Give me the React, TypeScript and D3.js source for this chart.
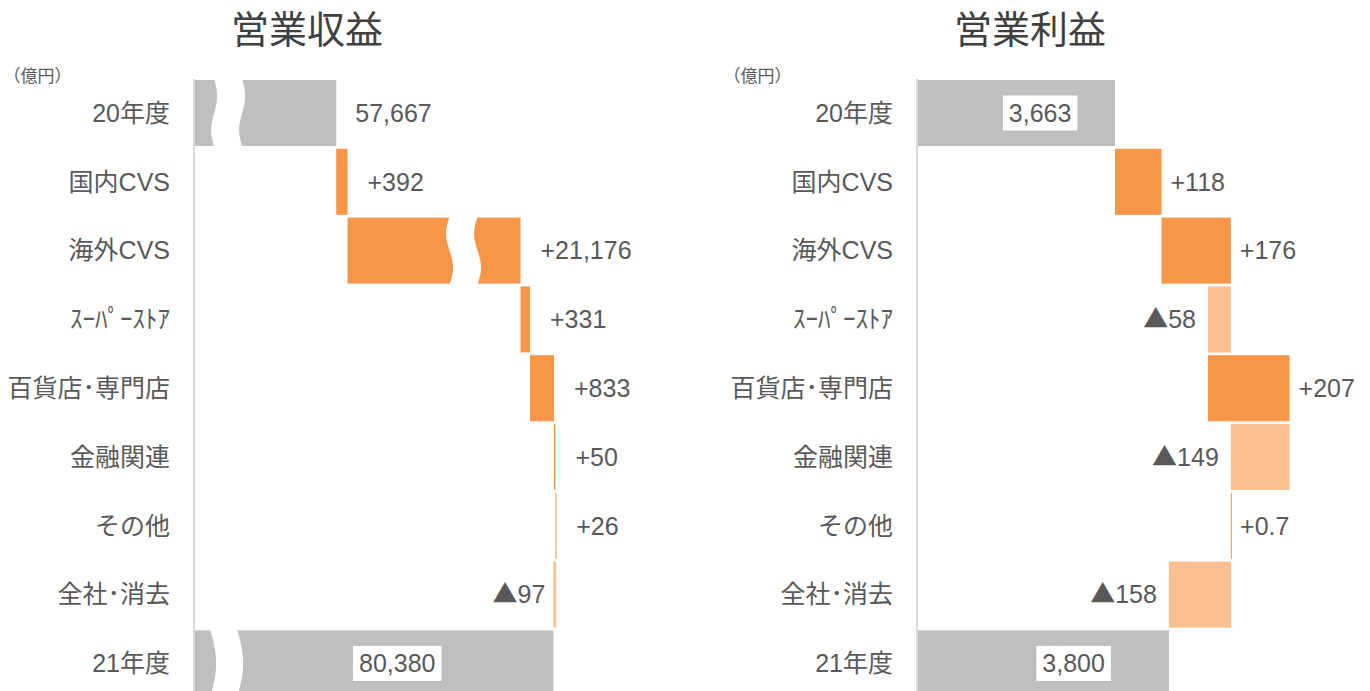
import React from "react";
import * as d3 from "d3";

// ---------- data ----------
const categories = ["20年度", "国内CVS", "海外CVS", "ｽｰﾊﾟｰｽﾄｱ", "百貨店･専門店", "金融関連", "その他", "全社･消去", "21年度"];
const revenueValues = [57667, 392, 21176, 331, 833, 50, 26, -97, 80380];
const profitValues = [3663, 118, 176, -58, 207, -149, 0.7, -158, 3800];
const panelTitles = ["営業収益", "営業利益"];
const unitLabel = "（億円）";
// compressed value ranges on the revenue axis
const revenueBreaks = [
  { lo: 700, hi: 54360, rows: ["20年度", "21年度"] },
  { lo: 61571, hi: 77775, rows: ["海外CVS"] },
];
const profitDomain = [3163, 4300];

// ---------- styles ----------
const W = 1370;
const H = 691;
const FONT = "'Liberation Sans', Arial, 'Noto Sans CJK JP', sans-serif";
const CJK = "'Noto Sans CJK JP', 'Liberation Sans', sans-serif";
const TEXT = "#595959";
const GRAY = "#bfbfbf";
const UP = "#f79646";
const DOWN = "#fac090";
const AXIS = "#d9d9d9";

const y = d3.scaleBand<string>().domain(categories).range([78.6, 78.6 + 9 * 68.8]).paddingInner(0.04).paddingOuter(0.02);

// revenue x scale: piecewise linear with compressed regions
const K_REV = 0.02876;
const REV_X0 = 195;
const breakGaps = [26, 30];
const revDomain = [0, revenueBreaks[0].lo, revenueBreaks[0].hi, revenueBreaks[1].lo, revenueBreaks[1].hi, 84000];
const revRange: number[] = [REV_X0];
for (let i = 1; i < revDomain.length; i++) {
  const isGap = i === 2 || i === 4;
  revRange.push(revRange[i - 1] + (isGap ? breakGaps[i === 2 ? 0 : 1] : (revDomain[i] - revDomain[i - 1]) * K_REV));
}
const xRev = d3.scaleLinear().domain(revDomain).range(revRange);

const K_PROF = 0.394;
const PROF_X0 = 918;
const xProf = d3
  .scaleLinear()
  .domain(profitDomain)
  .range([PROF_X0, PROF_X0 + (profitDomain[1] - profitDomain[0]) * K_PROF]);

const fmt = d3.format(",");
const labelOf = (v: number, total: boolean) => (total ? fmt(v) : v >= 0 ? "+" + fmt(v) : "▲" + fmt(-v));

// break band shapes per row
const breakShapes: Record<string, { amp: number; cycles: number; dx: number; w: number }> = {
  "20年度": { amp: 3, cycles: 1, dx: 0, w: 28 },
  "21年度": { amp: 6, cycles: 0.5, dx: -4.5, w: 27 },
  "海外CVS": { amp: -3.5, cycles: 1, dx: 0, w: 28 },
};

function textWidth(s: string, size: number) {
  let w = 0;
  for (const c of s) w += c === "," || c === "." ? 0.278 : c === "+" ? 0.584 : c === "▲" ? 1.0 : 0.556;
  return w * size;
}

function LabelText({ s }: { s: string }) {
  if (s.startsWith("▲")) {
    return (
      <>
        <tspan fontFamily={CJK}>▲</tspan>
        <tspan>{s.slice(1)}</tspan>
      </>
    );
  }
  return <>{s}</>;
}

type PanelProps = {
  values: number[];
  x: d3.ScaleLinear<number, number>;
  baseValue: number;
  axisX: number;
  labelX: number;
  title: string;
  titleX: number;
  unitX: number;
  posGap: number;
  negGap: number;
  totalFrac: number;
  breaks?: { lo: number; hi: number; rows: string[] }[];
};

function Panel(p: PanelProps) {
  const bw = y.bandwidth();
  let running = 0;
  const bars = p.values.map((v, i) => {
    const cat = categories[i];
    const total = i === 0 || i === p.values.length - 1;
    let a: number, b: number;
    if (total) {
      a = p.baseValue;
      b = v;
      running = v;
    } else {
      a = running;
      b = running + v;
      running = b;
    }
    const color = total ? GRAY : v >= 0 ? UP : DOWN;
    const x1 = p.x(Math.min(a, b));
    const x2 = p.x(Math.max(a, b));
    return { cat, v, total, a, b, x1, x2, color, y0: y(cat)!, label: labelOf(v, total) };
  });

  const line = d3.line<[number, number]>();
  const FS = 25;

  return (
    <g>
      <text x={p.titleX} y={43} textAnchor="middle" fontFamily={CJK} fontSize={38} fill="#404040">
        {p.title}
      </text>
      <text x={p.unitX} y={82} fontFamily={CJK} fontSize={17} fill={TEXT}>
        {unitLabel}
      </text>
      {bars.map((d) => (
        <rect key={d.cat} x={d.x1} y={d.y0} width={Math.max(1, d.x2 - d.x1)} height={bw} fill={d.color} />
      ))}
      {(p.breaks || []).map((br, bi) =>
        bars
          .filter((d) => br.rows.includes(d.cat))
          .map((d) => {
            const s = breakShapes[d.cat];
            const c = (p.x(br.lo) + p.x(br.hi)) / 2 + s.dx;
            const n = 24;
            const top = d.y0 - 1;
            const bot = d.y0 + bw + 1;
            const left: [number, number][] = [];
            const right: [number, number][] = [];
            for (let j = 0; j <= n; j++) {
              const t = j / n;
              const off = s.amp * Math.sin(2 * Math.PI * s.cycles * t);
              const yy = top + (bot - top) * t;
              left.push([c - s.w / 2 + off, yy]);
              right.push([c + s.w / 2 + off, yy]);
            }
            const pts = left.concat(right.reverse());
            return <path key={bi + d.cat} d={line(pts)! + "Z"} fill="#ffffff" />;
          })
      )}
      <line x1={p.axisX} x2={p.axisX} y1={79} y2={H} stroke={AXIS} strokeWidth={2} />
      {categories.map((c) => (
        <text key={c} x={p.labelX} y={y(c)! + bw / 2} dy="0.35em" textAnchor="end" fontFamily={FONT} fontSize={FS} fill={TEXT}>
          {c}
        </text>
      ))}
      {bars.map((d) => {
        const cy = d.y0 + bw / 2;
        if (d.total) {
          const tw = textWidth(d.label, FS);
          const boxW = tw + 12;
          const visStart = p.breaks ? Math.max(d.x1, p.x(p.breaks[0].hi)) : d.x1;
          const vis = d.x2 - visStart;
          if (vis > 2 * boxW) {
            const cx = d.x2 - vis * p.totalFrac;
            return (
              <g key={"l" + d.cat}>
                <rect x={cx - boxW / 2} y={cy - 17.5} width={boxW} height={35} fill="#ffffff" />
                <text x={cx} y={cy} dy="0.35em" textAnchor="middle" fontFamily={FONT} fontSize={FS} fill={TEXT}>
                  {d.label}
                </text>
              </g>
            );
          }
          return (
            <text key={"l" + d.cat} x={d.x2 + 19} y={cy} dy="0.35em" fontFamily={FONT} fontSize={FS} fill={TEXT}>
              {d.label}
            </text>
          );
        }
        if (d.v >= 0) {
          return (
            <text key={"l" + d.cat} x={d.x2 + p.posGap} y={cy} dy="0.35em" fontFamily={FONT} fontSize={FS} fill={TEXT}>
              <LabelText s={d.label} />
            </text>
          );
        }
        return (
          <text key={"l" + d.cat} x={d.x1 - p.negGap} y={cy} dy="0.35em" textAnchor="end" fontFamily={FONT} fontSize={FS} fill={TEXT}>
            <LabelText s={d.label} />
          </text>
        );
      })}
    </g>
  );
}

export default function App() {
  return (
    <svg
      width={W}
      height={H}
      viewBox={`0 0 ${W} ${H}`}
      style={{ position: "absolute", left: 0, top: 0, background: "#ffffff" }}
    >
      <Panel
        values={revenueValues}
        x={xRev}
        baseValue={0}
        axisX={REV_X0 - 1}
        labelX={170}
        title={panelTitles[0]}
        titleX={307}
        unitX={3.5}
        posGap={20}
        negGap={8}
        totalFrac={0.5}
        breaks={revenueBreaks}
      />
      <Panel
        values={profitValues}
        x={xProf}
        baseValue={profitDomain[0]}
        axisX={PROF_X0 - 1}
        labelX={893}
        title={panelTitles[1]}
        titleX={1030}
        unitX={723.5}
        posGap={9}
        negGap={12}
        totalFrac={0.38}
      />
    </svg>
  );
}
